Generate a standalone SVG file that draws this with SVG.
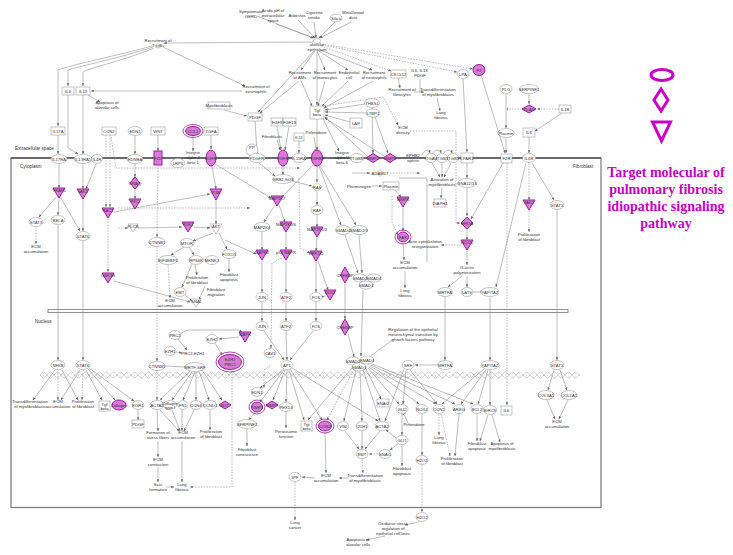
<svg xmlns="http://www.w3.org/2000/svg" width="733" height="555" viewBox="0 0 733 555">
<defs>
<style>
.e{fill:#fff;stroke:#8a8a8a;stroke-width:0.5}
.m{fill:#d77bd7;stroke:#a31aa3;stroke-width:1}
.r{fill:none;stroke:#a31aa3;stroke-width:0.8}
.t{font-family:"Liberation Sans",Arial,sans-serif;font-size:4.2px;fill:#333;text-anchor:middle}
.lbl{font-family:"Liberation Sans",Arial,sans-serif;font-size:4.6px;fill:#333}
.c{fill:none;stroke:#7a7a7a;stroke-width:0.5;marker-end:url(#ar)}
.n{fill:none;stroke:#7a7a7a;stroke-width:0.5}
.d{stroke-dasharray:1.6,1.2}
.i{marker-end:url(#br)}
.lg{fill:none;stroke:#c800c8;stroke-width:3}
.lt{font-family:"Liberation Serif","Times New Roman",serif;font-size:14px;font-weight:bold;fill:#c800c8;text-anchor:middle}
</style>
<marker id="ar" viewBox="0 0 6 6" refX="5.5" refY="3" markerWidth="3" markerHeight="3" markerUnits="userSpaceOnUse" orient="auto"><path d="M0,0.5L6,3L0,5.5z" fill="#666"/></marker>
<marker id="br" viewBox="0 0 2 6" refX="1" refY="3" markerWidth="1" markerHeight="3.5" markerUnits="userSpaceOnUse" orient="auto"><rect width="2" height="6" fill="#666"/></marker>
<pattern id="dna" width="14" height="8" patternUnits="userSpaceOnUse" x="40" y="371"><path d="M0,4C3.5,0 3.5,0 7,4S10.5,8 14,4" fill="none" stroke="#bdbdbd" stroke-width="0.7"/><path d="M0,4C3.5,8 3.5,8 7,4S10.5,0 14,4" fill="none" stroke="#bdbdbd" stroke-width="0.7"/><path d="M3.5,1.5V6.5M10.5,1.5V6.5" stroke="#d5d5d5" stroke-width="0.4"/></pattern>
</defs>
<rect width="733" height="555" fill="#fff"/>

<g id="compartments">
<rect x="11" y="158" width="590" height="349.5" fill="none" stroke="#777" stroke-width="1.2"/>
<line x1="11" y1="158" x2="601" y2="158" stroke="#555" stroke-width="1.6"/>
<rect x="48" y="309.5" width="520" height="3" fill="#fff" stroke="#777" stroke-width="0.8"/>
<rect x="40" y="371" width="540" height="8" fill="url(#dna)"/>
<text class="lbl" x="15" y="150">Extracellular space</text>
<text class="lbl" x="20" y="168">Cytoplasm</text>
<text class="lbl" x="573" y="168">Fibroblast</text>
<text class="lbl" x="35" y="323">Nucleus</text>
</g>

<g id="connectors">
<path class="c" d="M257,16L313,38"/><path class="c" d="M276,24L314,38"/><path class="c" d="M298,20L315,38"/><path class="c" d="M314,22L316,38"/><path class="c" d="M335,22L319,38"/><path class="c" d="M351,22L320,38"/>
<path class="c" d="M313,42L164,43"/>
<path class="c" d="M152,46C120,55 70,65 58,70L58,126"/>
<path class="c" d="M153,47C120,58 80,66 68,70L68,86"/>
<path class="c" d="M154,48C125,60 90,68 83,72L83,86"/>
<path class="c" d="M163,47L245,86"/>
<path class="c" d="M242,91L91,91"/>
<path class="c" d="M68,95L68,148L78,154"/>
<path class="c" d="M83,95L83,154"/>
<path class="c" d="M88,95L100,102"/>
<path class="c" d="M58,135L58,154"/>
<path class="c" d="M224,110L247,116"/>
<path class="c" d="M315,51L301,70"/><path class="c" d="M317,51L325,70"/><path class="c" d="M319,51L348,70"/><path class="c" d="M320,50L372,70"/>
<path class="c" d="M314,51L258,112"/>
<path class="c" d="M317,52L317,105"/>
<path class="c d" d="M321,46L391,71"/><path class="c d" d="M322,45L457,72"/><path class="c d" d="M322,44L473,69"/>
<path class="c" d="M301,81L312,106"/><path class="c" d="M325,81L318,106"/><path class="c" d="M348,81L322,106"/><path class="c" d="M373,81L324,108"/>
<path class="c" d="M299,81L260,113"/>
<path class="c" d="M398,78L400,88"/>
<path class="n" d="M420,79L420,92"/><path class="c" d="M414,92L424,92"/>
<path class="c" d="M437,98L440,111"/>
<path class="c" d="M463,79L467,152"/>
<path class="c" d="M481,75L505,153"/>
<path class="c" d="M506,94L506,128"/><path class="c" d="M506,138L506,153"/>
<path class="c" d="M529,94L529,104"/>
<path class="c d" d="M559,109L537,109"/><path class="c d i" d="M522,109L507,109"/>
<path class="c" d="M562,113L535,131"/>
<path class="c" d="M529,137L529,153"/>
<path class="c" d="M365,104L325,110"/><path class="c" d="M366,113L325,112"/><path class="c" d="M350,122L325,115"/>
<path class="c" d="M372,108L373,153"/><path class="c" d="M375,117L388,153"/>
<path class="c" d="M367,156L325,117"/><path class="c" d="M384,156L325,118"/><path class="c" d="M323,119L339,151"/>
<path class="c d" d="M324,106L383,97L398,125"/>
<path class="c d" d="M410,131L456,131L456,223L460,223"/>
<path class="c" d="M317,119L317,150"/>
<path class="c" d="M255,121L257,153"/>
<path class="c" d="M277,126L281,150"/><path class="c" d="M289,126L285,150"/>
<path class="c" d="M277,140L280,150"/>
<path class="c" d="M299,141L299,153"/>
<path class="c i" d="M314,137L316,149"/>
<path class="c d" d="M111,137L116,168L300,168"/>
<path class="c d" d="M118,208L250,208"/>
<path class="c" d="M59,164L59,188"/>
<path class="c" d="M83,164L83,189"/><path class="c" d="M96,164L86,189"/>
<path class="c" d="M56,197L39,217"/><path class="c" d="M59,198L58,215"/><path class="c" d="M61,198L80,231"/>
<path class="c" d="M83,199L83,231"/>
<path class="c d" d="M36,227L36,244"/>
<path class="c" d="M58,225L58,360"/>
<path class="c" d="M83,241L83,360"/>
<path class="c d" d="M106,135L106,207"/><path class="c d" d="M110,135L110,207"/>
<path class="c d" d="M108,219L108,272"/>
<path class="c" d="M114,281L190,302"/>
<path class="c" d="M135,136L135,154"/>
<path class="c" d="M135,164L135,177"/><path class="c" d="M135,189L135,199"/>
<path class="c" d="M158,135L158,151"/>
<path class="c d" d="M158,165L157,237"/>
<path class="c d" d="M157,247L157,361"/>
<path class="c" d="M193,136L193,151"/>
<path class="c" d="M211,135L211,149"/><path class="c" d="M212,166L216,189"/>
<path class="c" d="M114,212L210,194"/>
<path class="c d" d="M118,228L128,228"/><path class="c" d="M138,228L182,227"/>
<path class="c" d="M216,200L216,224"/>
<path class="c" d="M194,227L210,228"/>
<path class="c" d="M213,233L193,241"/><path class="c" d="M219,233L227,249"/>
<path class="c" d="M184,247L171,255"/><path class="c" d="M189,247L194,255"/>
<path class="c" d="M195,265L197,275"/><path class="c d" d="M168,265L170,298"/><path class="c" d="M229,259L229,272"/>
<path class="c" d="M192,264L182,287"/><path class="c" d="M185,295L192,301"/><path class="c" d="M205,286L199,300"/>
<path class="n" d="M203,260L206,260"/>
<path class="c" d="M283,166L283,175"/><path class="c" d="M259,163L275,176"/>
<path class="c" d="M292,181L312,186"/>
<path class="c" d="M317,166L317,182"/>
<path class="c" d="M317,192L317,205"/><path class="c" d="M317,215L317,227"/><path class="c" d="M317,237L316,251"/>
<path class="c" d="M316,261L316,292"/><path class="c" d="M318,261L328,290"/><path class="c" d="M325,296L321,297"/>
<path class="c" d="M313,165L282,197"/><path class="c" d="M275,205L264,222"/><path class="c" d="M279,205L285,222"/>
<path class="c" d="M262,232L262,250"/><path class="c" d="M286,232L286,250"/>
<path class="c" d="M262,260L262,292"/><path class="c" d="M286,260L286,292"/>
<path class="c" d="M316,302L316,321"/><path class="c" d="M262,302L262,321"/><path class="c" d="M286,302L286,321"/>
<path class="c" d="M264,331L284,360"/><path class="c" d="M286,331L287,360"/><path class="c" d="M313,331L290,360"/>
<path class="c" d="M215,164L271,198"/>
<path class="c" d="M225,240L256,254"/>
<path class="c d" d="M282,258L272,263L271,348"/>
<path class="c d" d="M299,178L300,248L310,253"/>
<path class="c" d="M320,166L356,225"/><path class="c" d="M319,166L341,225"/>
<path class="c" d="M345,235L358,273"/><path class="c" d="M359,235L362,273"/>
<path class="c" d="M363,290L361,356"/>
<path class="c" d="M345,283L345,319"/><path class="c" d="M348,334L354,357"/>
<path class="c" d="M372,186L382,186"/><path class="c" d="M395,190L401,197"/>
<path class="n" d="M399,178L427,178L427,262"/>
<path class="c" d="M403,207L403,231"/><path class="c" d="M403,243L404,260"/><path class="c" d="M405,271L405,288"/>
<path class="c d" d="M392,196L392,222L398,235"/>
<path class="c" d="M352,173L370,173"/><path class="c d" d="M390,173L420,173"/>
<path class="c" d="M432,163L440,177"/><path class="c" d="M442,163L442,177"/><path class="c" d="M451,163L444,177"/>
<path class="c" d="M422,155C424,149 429,149 430,153"/><path class="c" d="M432,154C435,149 440,149 441,153"/><path class="c" d="M443,154C446,149 451,149 452,153"/>
<path class="c" d="M442,188L441,198"/>
<path class="c" d="M467,163L467,178"/><path class="c" d="M467,188L467,216"/><path class="c" d="M467,230L467,240"/><path class="c" d="M467,251L467,265"/>
<path class="c" d="M503,163L471,219"/>
<path class="c" d="M462,276L448,287"/><path class="c" d="M467,276L467,287"/><path class="c i" d="M473,292L480,292"/>
<path class="c" d="M445,297L445,360"/><path class="c" d="M490,297L490,360"/>
<path class="c d" d="M461,245L441,245"/>
<path class="c d" d="M507,163L507,405"/>
<path class="c d" d="M529,163L529,200"/><path class="c d" d="M529,210L529,232"/>
<path class="c" d="M532,163L554,200"/><path class="c" d="M557,210L557,360"/>
<path class="c" d="M526,163L496,287"/>
<path class="c" d="M554,370L548,390"/><path class="c" d="M560,370L567,390"/><path class="c" d="M547,400L555,419"/><path class="c" d="M568,400L559,419"/>
<path class="c" d="M178,339L187,350"/><path class="c" d="M176,352L182,353"/><path class="c" d="M215,343L222,355"/>
<path class="c" d="M181,333L188,330L239,330L242,332"/><path class="c" d="M239,337L219,339"/>
<path class="c" d="M55,370L33,400"/><path class="c d" d="M58,370L58,400"/><path class="c" d="M62,370L78,400"/>
<path class="c" d="M80,370L61,400"/><path class="c d" d="M83,370L82,400"/><path class="c" d="M86,370L102,400"/><path class="c" d="M88,369L115,400"/><path class="c" d="M89,368L134,401"/>
<path class="c" d="M138,410L138,420"/>
<path class="n" d="M165,366L185,367"/><path class="c d" d="M157,371L157,400"/>
<path class="c" d="M190,371L160,400"/><path class="c" d="M192,372L172,400"/><path class="c" d="M195,372L183,400"/><path class="c" d="M196,372L196,400"/><path class="c" d="M199,371L209,400"/><path class="c" d="M202,370L222,400"/>
<path class="c" d="M157,410L158,431"/><path class="c" d="M158,441L158,457"/><path class="c" d="M158,467L158,482"/><path class="c" d="M166,487L174,487"/>
<path class="c" d="M172,410L180,431"/><path class="c" d="M182,410L182,431"/><path class="c" d="M160,410L179,431"/><path class="c" d="M194,410L184,431"/>
<path class="c" d="M210,410L210,430"/>
<path class="c" d="M182,441L182,482"/>
<path class="c d" d="M232,371L232,487L190,487"/>
<path class="c" d="M284,369L260,388"/><path class="c" d="M284,370L260,402"/><path class="c" d="M285,370L273,400"/><path class="c" d="M287,370L286,402"/><path class="c" d="M289,370L304,420"/><path class="c" d="M290,369L322,420"/><path class="c" d="M292,368L378,421"/>
<path class="c d" d="M270,366L264,370L264,388"/>
<path class="c" d="M255,412L249,420"/><path class="c" d="M247,429L247,446"/><path class="c" d="M286,412L286,428"/>
<path class="c" d="M352,368L308,420"/><path class="c d" d="M354,369L327,420"/><path class="c" d="M356,370L344,421"/><path class="c" d="M360,371L362,421"/><path class="c" d="M363,370L380,421"/><path class="c" d="M366,369L381,399"/><path class="c" d="M368,368L399,404"/><path class="c" d="M369,367L419,404"/><path class="c" d="M370,366L436,404"/><path class="c" d="M371,365L455,404"/><path class="c" d="M372,364L473,404"/>
<path class="c" d="M345,431L359,449"/><path class="c" d="M362,431L362,449"/><path class="c" d="M380,431L365,449"/><path class="c d" d="M378,454L369,454"/>
<path class="c" d="M402,414L402,435"/><path class="c" d="M398,444L390,450"/><path class="c" d="M402,445L402,466"/><path class="c" d="M396,438L386,430"/>
<path class="c i" d="M408,423L404,414"/>
<path class="c d" d="M362,459L363,473"/>
<path class="c" d="M325,432L326,473"/><path class="c" d="M315,478L302,477"/><path class="c d" d="M295,482L295,520"/><path class="c" d="M348,478L339,478"/>
<path class="c" d="M422,414L422,455"/><path class="c d" d="M422,465L422,512"/><path class="c" d="M419,522L405,525"/><path class="c" d="M385,536L366,540"/>
<path class="c d" d="M439,414L439,435"/><path class="c" d="M459,414L455,456"/><path class="c d" d="M441,414L450,456"/><path class="c" d="M477,414L477,441"/><path class="c" d="M488,415L480,441"/><path class="c" d="M492,415L500,442"/>
<path class="c" d="M406,370L403,404"/><path class="c" d="M410,370L437,404"/><path class="c" d="M404,369L385,421"/>
<path class="c" d="M437,365L415,365"/>
<path class="c" d="M484,369L442,404"/><path class="c" d="M486,370L461,404"/><path class="c" d="M488,370L478,404"/><path class="c" d="M490,370L490,405"/>
<path class="n" d="M395,338L368,358"/>
</g>

<g id="n-gerd"><text class="t" x="251" y="13">Symptomatic</text><text class="t" x="251" y="18">GERD</text></g>
<g id="n-acid"><text class="t" x="273" y="12">Acidic pH of</text><text class="t" x="273" y="17">extracellular</text><text class="t" x="273" y="22">space</text></g>
<g id="n-asbestos"><text class="t" x="297" y="17">Asbestos</text></g>
<g id="n-cig"><text class="t" x="314" y="14">Cigarette</text><text class="t" x="314" y="19">smoke</text></g>
<g id="n-silica"><ellipse class="e" cx="336" cy="18" rx="6" ry="4"/><text class="t" x="336" y="19.5">Silica</text></g>
<g id="n-metal"><text class="t" x="353" y="14">Metal/wood</text><text class="t" x="353" y="19">dust</text></g>
<g id="n-hub"><ellipse class="e" cx="317" cy="41" rx="4" ry="2.5"/><text class="t" x="317" y="46">alveolar</text><text class="t" x="317" y="50.5">epithelium</text></g>
<g id="n-tcells"><ellipse class="e" cx="158" cy="46" rx="3" ry="2"/><text class="t" x="158" y="42">Recruitment of</text><text class="t" x="158" y="47">T cells</text></g>
<g id="n-il4"><rect class="e" x="62" y="87" width="12" height="8"/><text class="t" x="68" y="92.5">IL4</text></g>
<g id="n-il13"><rect class="e" x="76" y="87" width="14" height="8"/><text class="t" x="83" y="92.5">IL13</text></g>
<g id="n-apop1"><text class="t" x="107" y="104">Apoptosis of</text><text class="t" x="107" y="109">alveolar cells</text></g>
<g id="n-eos"><text class="t" x="256" y="88">Recruitment of</text><text class="t" x="256" y="93">eosinophils</text></g>
<g id="n-il17a"><rect class="e" x="51" y="127" width="14" height="8"/><text class="t" x="58" y="132.5">IL17A</text></g>
<g id="n-ccn2a"><rect class="e" x="102" y="127" width="14" height="8"/><text class="t" x="109" y="132.5">CCN2</text></g>
<g id="n-edn1a"><ellipse class="e" cx="135" cy="131" rx="7" ry="4.5"/><text class="t" x="135" y="132.5">EDN1</text></g>
<g id="n-wnt"><rect class="e" x="151" y="127" width="14" height="8"/><text class="t" x="158" y="132.5">WNT</text></g>
<g id="n-ccl2"><ellipse class="r" cx="193" cy="131" rx="10" ry="6.5"/><ellipse class="m" cx="193" cy="131" rx="7.5" ry="4.5"/><text class="t" x="193" y="132.5">CCL2</text></g>
<g id="n-tgfa"><rect class="e" x="204" y="127" width="14" height="8"/><text class="t" x="211" y="132.5">TGFA</text></g>
<g id="n-myo"><rect class="e" x="208" y="102" width="22" height="7"/><text class="t" x="219" y="107">Myofibroblasts</text></g>
<g id="n-ams"><text class="t" x="300" y="74">Recruitment</text><text class="t" x="300" y="79">of AMs</text></g>
<g id="n-mono"><text class="t" x="325" y="74">Recruitment</text><text class="t" x="325" y="79">of monocytes</text></g>
<g id="n-endo"><text class="t" x="349" y="74">Endothelial</text><text class="t" x="349" y="79">cell</text></g>
<g id="n-neut"><text class="t" x="374" y="74">Recruitment</text><text class="t" x="374" y="79">of neutrophils</text></g>
<g id="n-cxcl12"><rect class="e" x="391" y="70" width="15" height="8"/><text class="t" x="398.5" y="75.5">CXCL12</text></g>
<g id="n-il6pdgf"><text class="t" x="420" y="72">IL6, IL13,</text><text class="t" x="420" y="77">PDGF</text></g>
<g id="n-lpa"><ellipse class="e" cx="463" cy="74" rx="6" ry="4.5"/><text class="t" x="463" y="75.5">LPA</text></g>
<g id="n-f2"><ellipse class="m" cx="479" cy="70" rx="6" ry="5.5"/><text class="t" x="479" y="71.5">F2</text></g>
<g id="n-fibrocytes"><text class="t" x="402" y="91">Recruitment of</text><text class="t" x="402" y="96">fibrocytes</text></g>
<g id="n-transd1"><text class="t" x="438" y="91">Transdifferentiation</text><text class="t" x="438" y="96">of myofibroblasts</text></g>
<g id="n-lung1"><text class="t" x="441" y="114">Lung</text><text class="t" x="441" y="119">fibrosis</text></g>
<g id="n-tgfb"><rect class="e" x="310" y="106" width="14" height="13"/><text class="t" x="317" y="111.5">Tgf</text><text class="t" x="317" y="116">beta</text></g>
<g id="n-thbs1"><ellipse class="e" cx="372" cy="103" rx="7.5" ry="4.5"/><text class="t" x="372" y="104.5">THBS1</text></g>
<g id="n-ltbp"><ellipse class="e" cx="373" cy="113" rx="7" ry="4"/><text class="t" x="373" y="114.5">LTBP1</text></g>
<g id="n-lap"><rect class="e" x="350" y="118" width="12" height="10"/><text class="t" x="356" y="124.5">LAP</text></g>
<g id="n-ecmden"><text class="t" x="403" y="129">ECM</text><text class="t" x="403" y="134">density</text></g>
<g id="n-pdgf"><rect class="e" x="248" y="113" width="14" height="8"/><text class="t" x="255" y="118.5">PDGF</text></g>
<g id="n-fgf9"><rect class="e" x="271" y="118" width="12" height="8"/><text class="t" x="277" y="123.5">FGF9</text></g>
<g id="n-fgf18"><rect class="e" x="283" y="118" width="13" height="8"/><text class="t" x="289.5" y="123.5">FGF18</text></g>
<g id="n-il11"><rect class="e" x="294" y="133" width="10" height="8"/><text class="t" x="299" y="138.5">IL11</text></g>
<g id="n-fibroblasts"><text class="t" x="272" y="138">Fibroblasts</text></g>
<g id="n-pirf1"><text class="t" x="316" y="134">Pirfenidone</text></g>
<g id="n-pp"><circle class="e" cx="252" cy="150" r="6"/><text class="t" x="252" y="149">PP</text></g>
<g id="n-plg"><ellipse class="e" cx="506" cy="89" rx="6" ry="4.5"/><text class="t" x="506" y="90.5">PLG</text></g>
<g id="n-serpine1a"><ellipse class="e" cx="529" cy="89" rx="9.5" ry="4.5"/><text class="t" x="529" y="90.5">SERPINE1</text></g>
<g id="n-plau"><polygon class="m" points="529,105 536,109 529,113 522,109"/><text class="t" x="529" y="110.5">PLAU</text></g>
<g id="n-il1b"><rect class="e" x="559" y="105" width="12" height="8"/><text class="t" x="565" y="110.5">IL1B</text></g>
<g id="n-plasmin1"><ellipse class="e" cx="506" cy="133" rx="8" ry="4.5"/><text class="t" x="506" y="134.5">Plasmin</text></g>
<g id="n-il6a"><rect class="e" x="523" y="128" width="12" height="9"/><text class="t" x="529" y="134">IL6</text></g>

<g id="n-il17ra"><ellipse class="e" cx="59" cy="159" rx="8" ry="4.5"/><text class="t" x="59" y="160.5">IL17RA</text></g>
<g id="n-il13ra1"><ellipse class="e" cx="83" cy="159" rx="9" ry="4.5"/><text class="t" x="83" y="160.5">IL13RA1</text></g>
<g id="n-il4r"><ellipse class="e" cx="97" cy="159" rx="5.5" ry="4.5"/><text class="t" x="97" y="160.5">IL4R</text></g>
<g id="n-ednra"><ellipse class="e" cx="135" cy="159" rx="8" ry="4.5"/><text class="t" x="135" y="160.5">EDNRA</text></g>
<g id="n-fzd"><rect class="m" x="154" y="151" width="8" height="14"/><text class="t" x="158" y="159.5">FZD</text></g>
<g id="n-lrp6"><ellipse class="e" cx="178" cy="163" rx="7" ry="4.5"/><text class="t" x="178" y="164.5">LRP6</text></g>
<g id="n-integ1"><text class="t" x="193" y="154">Integrin</text><text class="t" x="193" y="159">alpha 2</text><text class="t" x="193" y="164">beta 1</text></g>
<g id="n-egfr"><ellipse class="m" cx="211" cy="158" rx="5" ry="8"/><text class="t" x="211" y="159.5">EGFR</text></g>
<g id="n-pdgfr"><ellipse class="e" cx="257" cy="158" rx="8" ry="4.5"/><text class="t" x="257" y="159.5">PDGFR</text></g>
<g id="n-fgfr"><ellipse class="m" cx="283" cy="158" rx="5" ry="8"/><text class="t" x="283" y="159.5">FGFR</text></g>
<g id="n-il11ra"><ellipse class="e" cx="299" cy="158" rx="7" ry="4.5"/><text class="t" x="299" y="159.5">IL11RA</text></g>
<g id="n-tgfbr"><ellipse class="m" cx="317" cy="158" rx="5.5" ry="8"/><text class="t" x="317" y="159.5">TGFBR</text></g>
<g id="n-integ2"><text class="t" x="342" y="154">Integrin</text><text class="t" x="342" y="159">alpha V</text><text class="t" x="342" y="164">beta 6</text></g>
<g id="n-itgb8"><ellipse class="e" cx="357" cy="158" rx="6.5" ry="4.5"/><text class="t" x="357" y="159.5">ITGB8</text></g>
<g id="n-mmp2"><polygon class="m" points="373,153.5 380,158 373,162.5 366,158"/><text class="t" x="373" y="159.5">MMP2</text></g>
<g id="n-mmp9"><polygon class="m" points="390,153.5 397,158 390,162.5 383,158"/><text class="t" x="390" y="159.5">MMP9</text></g>
<g id="n-ephb2"><text class="t" x="413" y="157">EPHB2</text><text class="t" x="413" y="162">ephrin</text></g>
<g id="n-itgav"><ellipse class="e" cx="431" cy="158" rx="5.5" ry="4.5"/><text class="t" x="431" y="159.5">ITGAV</text></g>
<g id="n-itgb1"><ellipse class="e" cx="442" cy="158" rx="5.5" ry="4.5"/><text class="t" x="442" y="159.5">ITGB1</text></g>
<g id="n-itgb5"><ellipse class="e" cx="453" cy="158" rx="5.5" ry="4.5"/><text class="t" x="453" y="159.5">ITGB5</text></g>
<g id="n-lpar1"><rect class="e" x="461" y="153" width="12" height="10"/><text class="t" x="467" y="159.5">LPAR1</text></g>
<g id="n-f2r"><rect class="e" x="501" y="154" width="11" height="9"/><text class="t" x="506.5" y="160">F2R</text></g>
<g id="n-il6r"><ellipse class="e" cx="529" cy="158" rx="6.5" ry="4.5"/><text class="t" x="529" y="159.5">IL6R</text></g>

<g id="n-traf6"><polygon class="m" points="53,188 65,188 59,198"/><text class="t" x="59" y="192">TRAF6</text></g>
<g id="n-jak1"><polygon class="m" points="77,189 89,189 83,199"/><text class="t" x="83" y="193">JAK1</text></g>
<g id="n-stat3a"><ellipse class="e" cx="36" cy="222" rx="7" ry="4.5"/><text class="t" x="36" y="223.5">STAT3</text></g>
<g id="n-rela"><ellipse class="e" cx="58" cy="220" rx="7" ry="4.5"/><text class="t" x="58" y="221.5">RELA</text></g>
<g id="n-stat6a"><ellipse class="e" cx="83" cy="236" rx="7" ry="4.5"/><text class="t" x="83" y="237.5">STAT6</text></g>
<g id="n-ecm1"><text class="t" x="36" y="248">ECM</text><text class="t" x="36" y="253">accumulation</text></g>
<g id="n-gnaq"><polygon class="m" points="135,177 140,183 135,189 130,183"/><text class="t" x="135" y="184.5">GNAQ</text></g>
<g id="n-pkc"><polygon class="m" points="129,199 141,199 135,209"/><text class="t" x="135" y="203">PKC</text></g>
<g id="n-rac1"><polygon class="m" points="102,208 114,208 108,218"/><text class="t" x="108" y="212">RAC1</text></g>
<g id="n-plcb"><polygon class="e" points="128,224 138,224 133,232"/><text class="t" x="133" y="227.5">PLCB</text></g>
<g id="n-pi3k"><polygon class="m" points="210,189 222,189 216,200"/><text class="t" x="216" y="193.5">PI3K</text></g>
<g id="n-pdk1"><polygon class="m" points="182,222 194,222 188,232"/><text class="t" x="188" y="226">PDK1</text></g>
<g id="n-akt"><polygon class="e" points="210,224 222,224 216,234"/><text class="t" x="216" y="228">AKT</text></g>
<g id="n-ctnnb1a"><ellipse class="e" cx="157" cy="242" rx="8" ry="4.5"/><text class="t" x="157" y="243.5">CTNNB1</text></g>
<g id="n-mtor"><ellipse class="e" cx="187" cy="243" rx="7" ry="4.5"/><text class="t" x="187" y="244.5">MTOR</text></g>
<g id="n-eif"><ellipse class="e" cx="168" cy="260" rx="9.5" ry="4.5"/><text class="t" x="168" y="261.5">EIF4EBP1</text></g>
<g id="n-rps6k"><ellipse class="e" cx="196" cy="260" rx="7" ry="4.5"/><text class="t" x="196" y="261.5">RPS6K</text></g>
<g id="n-mknk1"><ellipse class="e" cx="212" cy="260" rx="6.5" ry="4.5"/><text class="t" x="212" y="261.5">MKNK1</text></g>
<g id="n-foxo3"><ellipse class="e" cx="229" cy="254" rx="7" ry="4.5"/><text class="t" x="229" y="255.5">FOXO3</text></g>
<g id="n-fapop1"><text class="t" x="229" y="276">Fibroblast</text><text class="t" x="229" y="281">apoptosis</text></g>
<g id="n-prolif1"><text class="t" x="197" y="279">Proliferation</text><text class="t" x="197" y="284">of fibroblast</text></g>
<g id="n-migr"><text class="t" x="216" y="291">Fibroblast</text><text class="t" x="216" y="296">migration</text></g>
<g id="n-emt1"><ellipse class="e" cx="180" cy="292" rx="6" ry="4.5"/><text class="t" x="180" y="293.5">EMT</text></g>
<g id="n-ecm2"><text class="t" x="170" y="302">ECM</text><text class="t" x="170" y="307">accumulation</text></g>
<g id="n-snai"><polygon class="e" points="191,299 201,299 196,307"/><text class="t" x="196" y="302.5">SNAI</text></g>
<g id="n-gsk3b"><polygon class="m" points="102,273 114,273 108,283"/><text class="t" x="108" y="277">GSK3B</text></g>

<g id="n-grb2"><ellipse class="e" cx="283" cy="179" rx="10" ry="4.5"/><text class="t" x="283" y="180.5">GRB2-SOS</text></g>
<g id="n-ras"><polygon class="e" points="317,182.5 322,187 317,191.5 312,187"/><text class="t" x="317" y="188.5">RAS</text></g>
<g id="n-raf"><ellipse class="e" cx="317" cy="210" rx="6" ry="4.5"/><text class="t" x="317" y="211.5">RAF</text></g>
<g id="n-map3k7"><polygon class="m" points="271,196 283,196 277,206"/><text class="t" x="277" y="200">MAP3K7</text></g>
<g id="n-map2k4"><ellipse class="e" cx="262" cy="227" rx="8" ry="4.5"/><text class="t" x="262" y="228.5">MAP2K4</text></g>
<g id="n-map2k36"><polygon class="m" points="280,222 292,222 286,232"/><text class="t" x="286" y="226">MAP2K3/6</text></g>
<g id="n-mek"><polygon class="m" points="311,227 323,227 317,237"/><text class="t" x="317" y="231">MAP2K1/2</text></g>
<g id="n-jnk"><polygon class="m" points="256,250 268,250 262,260"/><text class="t" x="262" y="254">MAPK8</text></g>
<g id="n-p38"><polygon class="m" points="280,250 292,250 286,260"/><text class="t" x="286" y="254">p38 MAPK</text></g>
<g id="n-erk"><polygon class="m" points="310,251 322,251 316,261"/><text class="t" x="316" y="255">ERK1/2</text></g>
<g id="n-elk1"><polygon class="m" points="324,290 336,290 330,300"/><text class="t" x="330" y="294">ELK1</text></g>
<g id="n-juna"><ellipse class="e" cx="262" cy="297" rx="6" ry="4.5"/><text class="t" x="262" y="298.5">JUN</text></g>
<g id="n-atf2a"><ellipse class="e" cx="286" cy="297" rx="6" ry="4.5"/><text class="t" x="286" y="298.5">ATF2</text></g>
<g id="n-fosa"><ellipse class="e" cx="316" cy="297" rx="6" ry="4.5"/><text class="t" x="316" y="298.5">FOS</text></g>
<g id="n-smad4"><ellipse class="e" cx="343" cy="230" rx="7.5" ry="4.5"/><text class="t" x="343" y="231.5">SMAD4</text></g>
<g id="n-smad23"><ellipse class="e" cx="359" cy="230" rx="8.5" ry="4.5"/><text class="t" x="359" y="231.5">SMAD2/3</text></g>
<g id="n-cbp1"><polygon class="m" points="345,267 349.5,275 345,283 340.5,275"/><text class="t" x="345" y="276.5">CREBBP</text></g>
<g id="n-smadc1"><ellipse class="e" cx="360" cy="278" rx="7" ry="4"/><ellipse class="e" cx="374" cy="278" rx="7" ry="4"/><ellipse class="e" cx="366" cy="285" rx="7" ry="4"/><text class="t" x="360" y="279.5">SMAD2</text><text class="t" x="374" y="279.5">SMAD4</text><text class="t" x="366" y="286.5">SMAD3</text></g>
<g id="n-plasminogen"><text class="t" x="359" y="187.5">Plasminogen</text></g>
<g id="n-plasmin2"><rect class="e" x="383" y="182" width="16" height="8"/><text class="t" x="391" y="187.5">Plasmin</text></g>
<g id="n-mmp3"><polygon class="m" points="397,197 409,197 403,207"/><text class="t" x="403" y="201">MMP3</text></g>
<g id="n-fak"><ellipse class="r" cx="403" cy="237" rx="8" ry="7"/><ellipse class="m" cx="403" cy="237" rx="5.5" ry="5"/><text class="t" x="403" y="238.5">FAK</text></g>
<g id="n-actin"><text class="t" x="425" y="243">Actin cytoskeleton</text><text class="t" x="425" y="248">reorganization</text></g>
<g id="n-ecm3"><text class="t" x="405" y="264">ECM</text><text class="t" x="405" y="269">accumulation</text></g>
<g id="n-lung2"><text class="t" x="405" y="292">Lung</text><text class="t" x="405" y="297">fibrosis</text></g>
<g id="n-actmyo"><text class="t" x="442" y="181">Activation of</text><text class="t" x="442" y="186">myofibroblasts</text></g>
<g id="n-diaph"><rect class="e" x="434" y="199" width="12" height="8"/><text class="t" x="440" y="204.5">DIAPH1</text></g>
<g id="n-adam17"><polygon class="e" points="380,169.5 383.5,173 380,176.5 376.5,173"/><text class="t" x="380" y="174.5">ADAM17</text></g>
<g id="n-gna"><ellipse class="e" cx="467" cy="183" rx="9" ry="4.5"/><text class="t" x="467" y="184.5">GNA12/13</text></g>
<g id="n-rhoa"><polygon class="m" points="467,217 473,223 467,229 461,223"/><text class="t" x="467" y="224.5">RHOA</text></g>
<g id="n-rock"><polygon class="m" points="461,240 473,240 467,250"/><text class="t" x="467" y="244">ROCK</text></g>
<g id="n-gact"><text class="t" x="467" y="269">G-actin</text><text class="t" x="467" y="274">polymerization</text></g>
<g id="n-mrtfa1"><ellipse class="e" cx="445" cy="292" rx="7.5" ry="4.5"/><text class="t" x="445" y="293.5">MRTFA</text></g>
<g id="n-lats"><ellipse class="e" cx="467" cy="292" rx="6" ry="4.5"/><text class="t" x="467" y="293.5">LATS</text></g>
<g id="n-yap1"><ellipse class="e" cx="490" cy="292" rx="9" ry="4.5"/><text class="t" x="490" y="293.5">YAP/TAZ</text></g>
<g id="n-jak2"><polygon class="m" points="523,200 535,200 529,210"/><text class="t" x="529" y="204">JAK2</text></g>
<g id="n-prolif2"><text class="t" x="529" y="236">Proliferation</text><text class="t" x="529" y="241">of fibroblast</text></g>
<g id="n-stat3b"><ellipse class="e" cx="557" cy="205" rx="7" ry="4.5"/><text class="t" x="557" y="206.5">STAT3</text></g>

<g id="n-prc2"><ellipse class="e" cx="175" cy="335" rx="6" ry="4.5"/><text class="t" x="175" y="336.5">PRC2</text></g>
<g id="n-ezh2"><ellipse class="e" cx="212" cy="339" rx="6" ry="4.5"/><text class="t" x="212" y="340.5">EZH2</text></g>
<g id="n-ezh1"><ellipse class="e" cx="170" cy="351" rx="6" ry="4.5"/><text class="t" x="170" y="352.5">EZH1</text></g>
<g id="n-prc2ezh1"><text class="t" x="193" y="354.5">PRC2-EZH1</text></g>
<g id="n-prc2ezh2"><ellipse class="r" cx="230" cy="362" rx="14" ry="10"/><ellipse class="m" cx="230" cy="362" rx="11.5" ry="7.5"/><text class="t" x="230" y="361">EZH2</text><text class="t" x="230" y="365.5">PRC2</text></g>
<g id="n-mapkn"><polygon class="m" points="239,332 251,332 245,342"/><text class="t" x="245" y="336">MAPK</text></g>
<g id="n-junb"><ellipse class="e" cx="262" cy="326" rx="6" ry="4.5"/><text class="t" x="262" y="327.5">JUN</text></g>
<g id="n-atf2b"><ellipse class="e" cx="286" cy="326" rx="6" ry="4.5"/><text class="t" x="286" y="327.5">ATF2</text></g>
<g id="n-fosb"><ellipse class="e" cx="316" cy="326" rx="6" ry="4.5"/><text class="t" x="316" y="327.5">FOS</text></g>
<g id="n-cbp2"><polygon class="m" points="345,319 349.5,327 345,335 340.5,327"/><text class="t" x="345" y="328.5">CREBBP</text></g>
<g id="n-cav1"><ellipse class="e" cx="270" cy="353" rx="6" ry="4.5"/><text class="t" x="270" y="354.5">CAV1</text></g>
<g id="n-ap1"><ellipse class="e" cx="287" cy="365" rx="6" ry="4.5"/><text class="t" x="287" y="366.5">AP1</text></g>
<g id="n-smadc2"><ellipse class="e" cx="353" cy="361" rx="7" ry="4"/><ellipse class="e" cx="367" cy="360" rx="7" ry="4"/><ellipse class="e" cx="359" cy="367" rx="7" ry="4"/><text class="t" x="353" y="362.5">SMAD2</text><text class="t" x="367" y="361.5">SMAD4</text><text class="t" x="359" y="368.5">SMAD3</text></g>
<g id="n-regemt"><text class="t" x="413" y="331">Regulation of the epithelial</text><text class="t" x="413" y="336">mesenchymal transition by</text><text class="t" x="413" y="341">growth factors pathway</text></g>
<g id="n-srf"><ellipse class="e" cx="408" cy="365" rx="6" ry="4.5"/><text class="t" x="408" y="366.5">SRF</text></g>
<g id="n-mrtfa2"><ellipse class="e" cx="445" cy="365" rx="7.5" ry="4.5"/><text class="t" x="445" y="366.5">MRTFA</text></g>
<g id="n-yap2"><ellipse class="e" cx="490" cy="365" rx="9" ry="4.5"/><text class="t" x="490" y="366.5">YAP/TAZ</text></g>
<g id="n-stat3c"><ellipse class="e" cx="557" cy="365" rx="7" ry="4.5"/><text class="t" x="557" y="366.5">STAT3</text></g>
<g id="n-nfkb"><ellipse class="e" cx="58" cy="365" rx="7" ry="4.5"/><text class="t" x="58" y="366.5">NFKB</text></g>
<g id="n-stat6b"><ellipse class="e" cx="83" cy="365" rx="7" ry="4.5"/><text class="t" x="83" y="366.5">STAT6</text></g>
<g id="n-ctnnb1b"><ellipse class="e" cx="157" cy="366" rx="8" ry="4.5"/><text class="t" x="157" y="367.5">CTNNB1</text></g>
<g id="n-mrtfsrf"><ellipse class="e" cx="195" cy="367" rx="10" ry="4.5"/><text class="t" x="195" y="368.5">MRTF-SRF</text></g>

<g id="n-transd2"><text class="t" x="30" y="403">Transdifferentiation</text><text class="t" x="30" y="408">of myofibroblasts</text></g>
<g id="n-ecm4"><text class="t" x="58" y="403">ECM</text><text class="t" x="58" y="408">accumulation</text></g>
<g id="n-prolif3"><text class="t" x="83" y="403">Proliferation</text><text class="t" x="83" y="408">of fibroblast</text></g>
<g id="n-tgfb2"><rect class="e" x="99" y="401" width="11" height="10"/><text class="t" x="104.5" y="405.5">Tgf</text><text class="t" x="104.5" y="409.5">beta</text></g>
<g id="n-coll"><ellipse class="m" cx="119" cy="405" rx="7" ry="5"/><text class="t" x="119" y="406.5">Collagen</text></g>
<g id="n-egr1"><ellipse class="e" cx="138" cy="405" rx="6" ry="4.5"/><text class="t" x="138" y="406.5">EGR1</text></g>
<g id="n-pdgf2"><rect class="e" x="132" y="420" width="12" height="8"/><text class="t" x="138" y="425.5">PDGF</text></g>
<g id="n-acta2a"><ellipse class="e" cx="157" cy="405" rx="7" ry="4.5"/><text class="t" x="157" y="406.5">ACTA2</text></g>
<g id="n-col1"><ellipse class="e" cx="170" cy="405" rx="6.5" ry="4.5"/><text class="t" x="170" y="404.5">Collagen</text><text class="t" x="170" y="408.5">type I</text></g>
<g id="n-fn1"><ellipse class="e" cx="183" cy="405" rx="5" ry="4.5"/><text class="t" x="183" y="406.5">FN1</text></g>
<g id="n-ccn4"><ellipse class="e" cx="196" cy="405" rx="6" ry="4.5"/><text class="t" x="196" y="406.5">CCN4</text></g>
<g id="n-ccnd1"><ellipse class="e" cx="210" cy="405" rx="6.5" ry="4.5"/><text class="t" x="210" y="406.5">CCND1</text></g>
<g id="n-myc"><polygon class="m" points="225,401 231,405 225,409 219,405"/><text class="t" x="225" y="406.5">MYC</text></g>
<g id="n-stress"><text class="t" x="158" y="434">Formation of</text><text class="t" x="158" y="439">stress fibers</text></g>
<g id="n-ecm5"><text class="t" x="183" y="434">ECM</text><text class="t" x="183" y="439">accumulation</text></g>
<g id="n-prolif4"><text class="t" x="211" y="433">Proliferation</text><text class="t" x="211" y="438">of fibroblast</text></g>
<g id="n-ecmcon"><text class="t" x="158" y="461">ECM</text><text class="t" x="158" y="466">contraction</text></g>
<g id="n-scar"><text class="t" x="158" y="486">Scar</text><text class="t" x="158" y="491">formation</text></g>
<g id="n-lung3"><text class="t" x="182" y="486">Lung</text><text class="t" x="182" y="491">fibrosis</text></g>

<g id="n-edn1b"><ellipse class="e" cx="257" cy="392" rx="6" ry="4.5"/><text class="t" x="257" y="393.5">EDN1</text></g>
<g id="n-timp1"><ellipse class="r" cx="257" cy="407" rx="8" ry="7"/><ellipse class="m" cx="257" cy="407" rx="5.5" ry="5"/><text class="t" x="257" y="408.5">TIMP1</text></g>
<g id="n-mmp7"><polygon class="m" points="272,401 278,405 272,409 266,405"/><text class="t" x="272" y="406.5">MMP7</text></g>
<g id="n-pex13"><ellipse class="e" cx="286" cy="407" rx="6.5" ry="4.5"/><text class="t" x="286" y="408.5">PEX13</text></g>
<g id="n-serpine1b"><ellipse class="e" cx="247" cy="424" rx="9.5" ry="4.5"/><text class="t" x="247" y="425.5">SERPINE1</text></g>
<g id="n-senes"><text class="t" x="247" y="451">Fibroblast</text><text class="t" x="247" y="456">senescence</text></g>
<g id="n-perox"><text class="t" x="286" y="433">Peroxisome</text><text class="t" x="286" y="438">function</text></g>
<g id="n-tgfb3"><rect class="e" x="301" y="421" width="11" height="10"/><text class="t" x="306.5" y="425.5">Tgf</text><text class="t" x="306.5" y="429.5">beta</text></g>
<g id="n-ccn2m"><ellipse class="r" cx="325" cy="426" rx="9" ry="7"/><ellipse class="m" cx="325" cy="426" rx="6.5" ry="5"/><text class="t" x="325" y="427.5">CCN2</text></g>
<g id="n-vim"><ellipse class="e" cx="343" cy="426" rx="5.5" ry="4.5"/><text class="t" x="343" y="427.5">VIM</text></g>
<g id="n-cdh1"><ellipse class="e" cx="362" cy="426" rx="6" ry="4.5"/><text class="t" x="362" y="427.5">CDH1</text></g>
<g id="n-acta2b"><ellipse class="e" cx="382" cy="426" rx="7" ry="4.5"/><text class="t" x="382" y="427.5">ACTA2</text></g>
<g id="n-snai2"><rect class="e" x="377" y="399" width="12" height="8"/><text class="t" x="383" y="404.5">SNAI2</text></g>
<g id="n-gli2"><ellipse class="e" cx="402" cy="409" rx="6" ry="4.5"/><text class="t" x="402" y="410.5">GLI2</text></g>
<g id="n-pirf2"><text class="t" x="414" y="426">Pirfenidone</text></g>
<g id="n-nox4"><ellipse class="e" cx="422" cy="409" rx="6" ry="4.5"/><text class="t" x="422" y="410.5">NOX4</text></g>
<g id="n-ccn2b"><ellipse class="e" cx="439" cy="409" rx="6" ry="4.5"/><text class="t" x="439" y="410.5">CCN2</text></g>
<g id="n-areg"><ellipse class="e" cx="459" cy="409" rx="6" ry="4.5"/><text class="t" x="459" y="410.5">AREG</text></g>
<g id="n-bcl2"><ellipse class="e" cx="477" cy="409" rx="6" ry="4.5"/><text class="t" x="477" y="410.5">BCL2</text></g>
<g id="n-birc5"><ellipse class="e" cx="490" cy="410" rx="6.5" ry="4.5"/><text class="t" x="490" y="411.5">BIRC5</text></g>
<g id="n-il6b"><rect class="e" x="501" y="406" width="11" height="9"/><text class="t" x="506.5" y="412">IL6</text></g>
<g id="n-emt2"><ellipse class="e" cx="362" cy="454" rx="6" ry="4.5"/><text class="t" x="362" y="455.5">EMT</text></g>
<g id="n-snai1"><ellipse class="e" cx="385" cy="454" rx="6" ry="4.5"/><text class="t" x="385" y="455.5">SNAI1</text></g>
<g id="n-gli1"><ellipse class="e" cx="402" cy="440" rx="6" ry="4.5"/><text class="t" x="402" y="441.5">GLI1</text></g>
<g id="n-lung4"><text class="t" x="439" y="439">Lung</text><text class="t" x="439" y="444">fibrosis</text></g>
<g id="n-fapop2"><text class="t" x="477" y="445">Fibroblast</text><text class="t" x="477" y="450">apoptosis</text></g>
<g id="n-prolif5"><text class="t" x="452" y="460">Proliferation</text><text class="t" x="452" y="465">of fibroblast</text></g>
<g id="n-fapop3"><text class="t" x="402" y="470">Fibroblast</text><text class="t" x="402" y="475">apoptosis</text></g>
<g id="n-h2o2a"><ellipse class="e" cx="422" cy="460" rx="6" ry="4.5"/><text class="t" x="422" y="461.5">H2O2</text></g>
<g id="n-ecm6"><text class="t" x="326" y="477">ECM</text><text class="t" x="326" y="482">accumulation</text></g>
<g id="n-ipf"><ellipse class="e" cx="295" cy="477" rx="6" ry="4.5"/><text class="t" x="295" y="478.5">IPF</text></g>
<g id="n-transd3"><text class="t" x="365" y="477">Transdifferentiation</text><text class="t" x="365" y="482">of myofibroblasts</text></g>
<g id="n-lungcancer"><text class="t" x="295" y="524">Lung</text><text class="t" x="295" y="529">cancer</text></g>
<g id="n-h2o2b"><ellipse class="e" cx="422" cy="517" rx="6" ry="4.5"/><text class="t" x="422" y="518.5">H2O2</text></g>
<g id="n-oxid"><text class="t" x="393" y="525">Oxidative stress</text><text class="t" x="393" y="530">regulation of</text><text class="t" x="393" y="535">epithelial cell lines</text></g>
<g id="n-apop2"><text class="t" x="358" y="541">Apoptosis of</text><text class="t" x="358" y="546">alveolar cells</text></g>
<g id="n-apopmyo"><text class="t" x="502" y="445">Apoptosis of</text><text class="t" x="502" y="450">myofibroblasts</text></g>
<g id="n-col3a1"><ellipse class="e" cx="546" cy="395" rx="8" ry="4.5"/><text class="t" x="546" y="396.5">COL3A1</text></g>
<g id="n-col1a1"><ellipse class="e" cx="569" cy="395" rx="8" ry="4.5"/><text class="t" x="569" y="396.5">COL1A1</text></g>
<g id="n-ecm7"><text class="t" x="557" y="423">ECM</text><text class="t" x="557" y="428">accumulation</text></g>

<g id="legend">
<ellipse class="lg" cx="662" cy="75" rx="11" ry="5.5"/>
<polygon class="lg" points="661,89 668,100 661,111 654,100"/>
<polygon class="lg" points="652.5,122 670.5,122 661.5,141"/>
<text class="lt" x="666" y="177">Target molecular of</text>
<text class="lt" x="666" y="194">pulmonary fibrosis</text>
<text class="lt" x="666" y="211">idiopathic signaling</text>
<text class="lt" x="666" y="228">pathway</text>
</g>
</svg>
